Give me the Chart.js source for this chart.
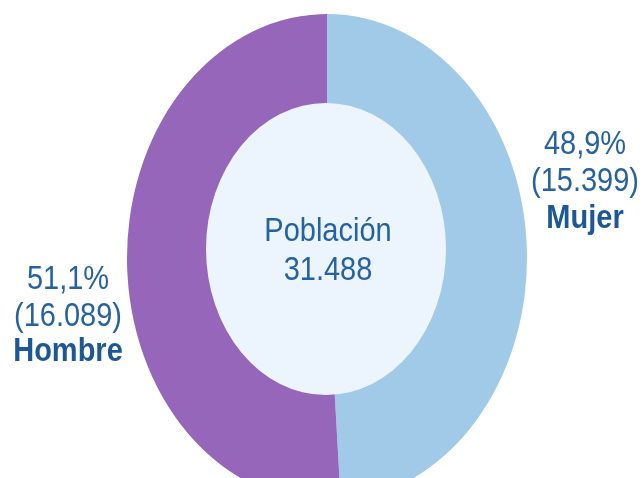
<!DOCTYPE html>
<html lang="es">
<head>
<meta charset="utf-8">
<title>Población por sexo</title>
<script src="https://cdn.jsdelivr.net/npm/chart.js@4.4.1/dist/chart.umd.min.js"></script>
<style>
  html, body { margin: 0; padding: 0; background: #ffffff; }
  #wrap { position: relative; width: 643px; height: 478px; }
</style>
</head>
<body>
<div id="wrap"><canvas id="chartPoblacion"></canvas></div>
<script>
// Datos
const categorias = ['Mujer', 'Hombre'];
const valores = [15399, 16089];
const colores = ['#a0cae8', '#9566b9'];
const tituloCentro = 'Población';

// Paleta de texto y relleno
const azulTexto = '#2462a1';
const azulFuerte = '#1c5796';
const rellenoCentro = '#ecf4fd';
const estiramiento = 244 / 200;   // el anillo original está estirado en vertical
const estiramientoTexto = 1.14;
const fuente = '"Liberation Sans", Arial, sans-serif';

const total = valores.reduce((a, b) => a + b, 0);

function miles(n) {
  return String(n).replace(/\B(?=(\d{3})+(?!\d))/g, '.');
}

function porcentaje(n) {
  return (n / total * 100).toFixed(1).replace('.', ',') + '%';
}

// Texto estirado en vertical como en el original
function textoEstirado(ctx, texto, x, y, peso) {
  ctx.save();
  ctx.translate(x, y);
  ctx.scale(1, estiramientoTexto);
  ctx.font = peso + ' 29px ' + fuente;
  ctx.fillText(texto, 0, 0);
  ctx.restore();
}

// Estira el anillo y pinta el hueco central (algo desplazado hacia arriba)
const anilloEliptico = {
  id: 'anilloEliptico',
  beforeDatasetsDraw(chart) {
    const arc = chart.getDatasetMeta(0).data[0];
    if (!arc) return;
    const ctx = chart.ctx;
    ctx.save();
    ctx.translate(arc.x, arc.y);
    ctx.scale(1, estiramiento);
    ctx.translate(-arc.x, -arc.y);
  },
  afterDatasetsDraw(chart) {
    const ctx = chart.ctx;
    ctx.restore();
    const arc = chart.getDatasetMeta(0).data[0];
    if (!arc) return;
    const r = arc.outerRadius;
    ctx.save();
    ctx.beginPath();
    ctx.ellipse(arc.x - 1, arc.y - 9, r * 0.6, r * 0.73, 0, 0, Math.PI * 2);
    ctx.fillStyle = rellenoCentro;
    ctx.fill();
    ctx.restore();
  },
  afterDraw(chart) {
    const arc = chart.getDatasetMeta(0).data[0];
    if (!arc) return;
    const ctx = chart.ctx;
    const cx = arc.x, cy = arc.y, r = arc.outerRadius;
    ctx.save();
    ctx.textAlign = 'center';
    ctx.textBaseline = 'alphabetic';
    ctx.fillStyle = azulTexto;

    // Centro
    textoEstirado(ctx, tituloCentro, cx + 1, cy - 17, 'normal');
    textoEstirado(ctx, miles(total), cx + 1, cy + 22, 'normal');

    // Mujer (derecha)
    const xd = cx + r + 58;
    textoEstirado(ctx, porcentaje(valores[0]), xd, cy - 104, 'normal');
    textoEstirado(ctx, '(' + miles(valores[0]) + ')', xd, cy - 67, 'normal');
    ctx.fillStyle = azulFuerte;
    textoEstirado(ctx, categorias[0], xd, cy - 30, 'bold');

    // Hombre (izquierda)
    const xi = cx - r - 59;
    ctx.fillStyle = azulTexto;
    textoEstirado(ctx, porcentaje(valores[1]), xi, cy + 31, 'normal');
    textoEstirado(ctx, '(' + miles(valores[1]) + ')', xi, cy + 68, 'normal');
    ctx.fillStyle = azulFuerte;
    textoEstirado(ctx, categorias[1], xi, cy + 103, 'bold');
    ctx.restore();
  }
};

new Chart(document.getElementById('chartPoblacion'), {
  type: 'doughnut',
  data: {
    labels: categorias,
    datasets: [{
      data: valores,
      backgroundColor: colores,
      borderWidth: 0,
      hoverOffset: 0,
      offset: 0,
      clip: false
    }]
  },
  options: {
    responsive: true,
    maintainAspectRatio: false,
    animation: false,
    cutout: '50%',
    layout: { padding: { left: 127, right: 116, top: 58, bottom: 20 } },
    plugins: {
      legend: { display: false },
      tooltip: { enabled: false }
    }
  },
  plugins: [anilloEliptico]
});
</script>
</body>
</html>
